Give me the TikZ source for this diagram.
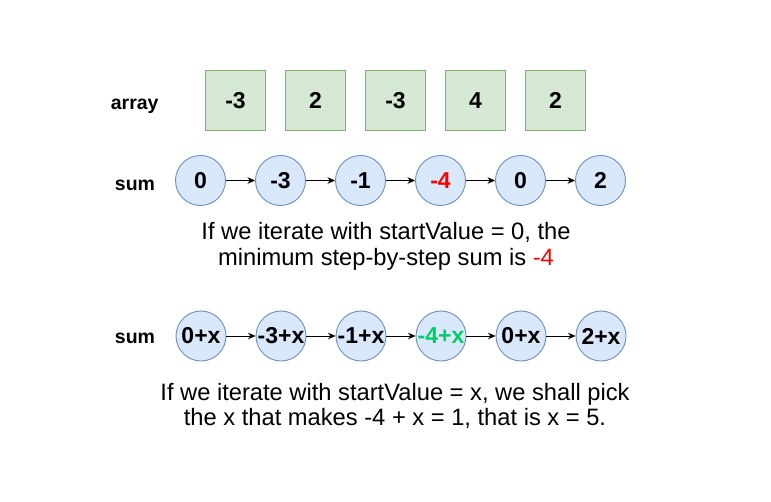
\documentclass[tikz,border=0pt]{standalone}
\usepackage{fontspec}
\setmainfont{Liberation Sans}
\usetikzlibrary{arrows.meta}
\definecolor{gfill}{HTML}{D5E8D4}
\definecolor{gline}{HTML}{82B366}
\definecolor{bfill}{HTML}{DAE8FC}
\definecolor{bline}{HTML}{6C8EBF}
\definecolor{myred}{HTML}{FF0000}
\definecolor{mygreen}{HTML}{00CC66}
\tikzset{
  cell/.style={draw=gline, fill=gfill, line width=0.9pt, minimum width=60pt, minimum height=60pt, inner sep=0pt, font=\fontsize{23}{27}\selectfont\bfseries},
  sumnode/.style={circle, draw=bline, fill=bfill, line width=0.9pt, minimum size=50pt, inner sep=0pt, font=\fontsize{23}{27}\selectfont\bfseries},
  rowlabel/.style={anchor=base, font=\fontsize{19.5}{23}\selectfont\bfseries},
  desc/.style={align=center, font=\fontsize{23.7}{25.8}\selectfont},
  conn/.style={-{Stealth[length=7.5pt,width=6.5pt]}, line width=0.8pt, black},
}
\begin{document}
\begin{tikzpicture}[x=1pt,y=-1pt]
\useasboundingbox (0,0) rectangle (771,501);
\fill[white] (0,0) rectangle (771,501);
\node[rowlabel] (lab1) at (134.7,109.3) {array};
\node[cell] (a1) at (235.5,100.5) {-3};
\node[cell] (a2) at (315.5,100.5) {2};
\node[cell] (a3) at (395.5,100.5) {-3};
\node[cell] (a4) at (475.5,100.5) {4};
\node[cell] (a5) at (555.5,100.5) {2};

\node[rowlabel] (lab2) at (135,190) {sum};
\node[sumnode] (s1) at (200.5,180.5) {0};
\node[sumnode] (s2) at (280.5,180.5) {-3};
\node[sumnode] (s3) at (360.5,180.5) {-1};
\node[sumnode] (s4) at (440.5,180.5) {\textcolor{myred}{-4}};
\node[sumnode] (s5) at (520.5,180.5) {0};
\node[sumnode] (s6) at (600.5,180.5) {2};
\foreach \i/\j in {s1/s2,s2/s3,s3/s4,s4/s5,s5/s6} \draw[conn] (\i) -- (\j);

\node[desc] (d1) at (386,246) {If we iterate with startValue = 0, the\\minimum step-by-step sum is \textcolor{myred}{-4}};

\node[rowlabel] (lab3) at (135,343.3) {sum};
\node[sumnode] (t1) at (201,336) {0+x};
\node[sumnode] (t2) at (281,336) {-3+x};
\node[sumnode] (t3) at (361,336) {-1+x};
\node[sumnode] (t4) at (441,336) {\textcolor{mygreen}{-4+x}};
\node[sumnode] (t5) at (521,336) {0+x};
\node[sumnode] (t6) at (601,336) {2+x};
\foreach \i/\j in {t1/t2,t2/t3,t3/t4,t4/t5,t5/t6} \draw[conn] (\i) -- (\j);

\node[desc] (d2) at (395,406) {If we iterate with startValue = x, we shall pick\\the x that makes -4 + x = 1, that is x = 5.};
\end{tikzpicture}
\end{document}
